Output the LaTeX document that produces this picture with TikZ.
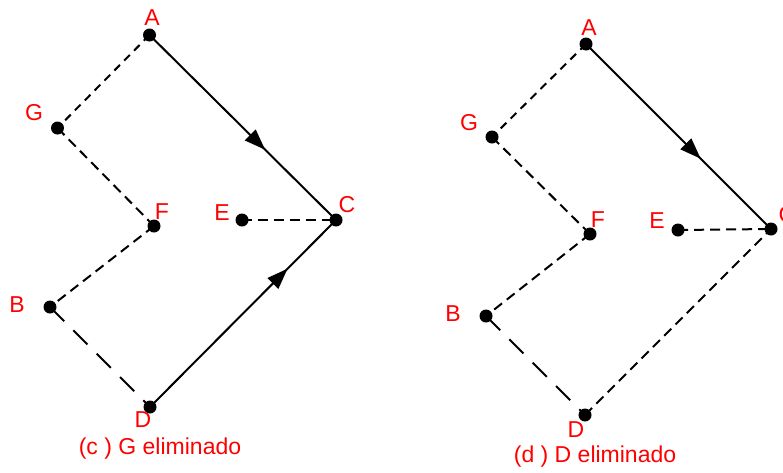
\documentclass[tikz,border=0pt]{standalone}
\usepackage{fontspec}
\setmainfont{Liberation Sans}
\usetikzlibrary{arrows.meta,decorations.markings}
\begin{document}
\begin{tikzpicture}[x=1pt,y=-1pt,
  dot/.style={circle,fill=black,inner sep=0pt,minimum size=13pt},
  lbl/.style={text=red,font=\fontsize{23}{26}\selectfont,inner sep=0pt},
  captxt/.style={text=red,font=\fontsize{23}{26}\selectfont,inner sep=0pt,anchor=base},
  lnw/.style={line width=2pt},
  dA/.style={lnw,dash pattern=on 8pt off 6pt},
  dB/.style={lnw,dash pattern=on 10pt off 6pt},
  dL/.style={lnw,dash pattern=on 20pt off 13pt},
  midarrow/.style={lnw,postaction={decorate},decoration={markings,
    mark=at position #1 with {\arrow{Triangle[length=21pt,width=15pt]}}}}
]
\useasboundingbox (0,0) rectangle (783,472);
% ---- left graph (c)
\node[dot] (A1) at (149.5,35) {};
\node[dot] (G1) at (57.5,128) {};
\node[dot] (F1) at (154,226) {};
\node[dot] (B1) at (50,307) {};
\node[dot] (D1) at (150,407) {};
\node[dot] (C1) at (336,220) {};
\node[dot] (E1) at (242,220) {};
\node[lbl] (lA1) at (152,18) {A};
\node[lbl] (lG1) at (34,113) {G};
\node[lbl] (lF1) at (162,212) {F};
\node[lbl] (lE1) at (222,213) {E};
\node[lbl] (lC1) at (347,205) {C};
\node[lbl] (lB1) at (17,305) {B};
\node[lbl] (lD1) at (143,420) {D};
\node[captxt] (cap1) at (160,454) {(c ) G eliminado};
\draw[dA] (A1.center) -- (G1.center);
\draw[dB] (G1.center) -- (F1.center);
\draw[dB] (F1.center) -- (B1.center);
\draw[dL] (B1.center) -- (D1.center);
\draw[dB] (E1.center) -- (C1.center);
\draw[midarrow=0.62] (A1.center) -- (C1.center);
\draw[midarrow=0.74] (D1.center) -- (C1.center);
% ---- right graph (d)
\node[dot] (A2) at (586,44) {};
\node[dot] (G2) at (492,137) {};
\node[dot] (F2) at (590,234) {};
\node[dot] (B2) at (486,316) {};
\node[dot] (D2) at (585,415) {};
\node[dot] (C2) at (771,229) {};
\node[dot] (E2) at (678,230) {};
\node[lbl] (lA2) at (589,28) {A};
\node[lbl] (lG2) at (469,123) {G};
\node[lbl] (lF2) at (598,220) {F};
\node[lbl] (lE2) at (657,221) {E};
\node[lbl] (lC2) at (787,215) {C};
\node[lbl] (lB2) at (453,314) {B};
\node[lbl] (lD2) at (576,430) {D};
\node[captxt] (cap2) at (595,462) {(d ) D eliminado};
\draw[dA] (A2.center) -- (G2.center);
\draw[dB] (G2.center) -- (F2.center);
\draw[dB] (F2.center) -- (B2.center);
\draw[dL] (B2.center) -- (D2.center);
\draw[dB] (E2.center) -- (C2.center);
\draw[dB] (D2.center) -- (C2.center);
\draw[midarrow=0.62] (A2.center) -- (C2.center);
\end{tikzpicture}
\end{document}
